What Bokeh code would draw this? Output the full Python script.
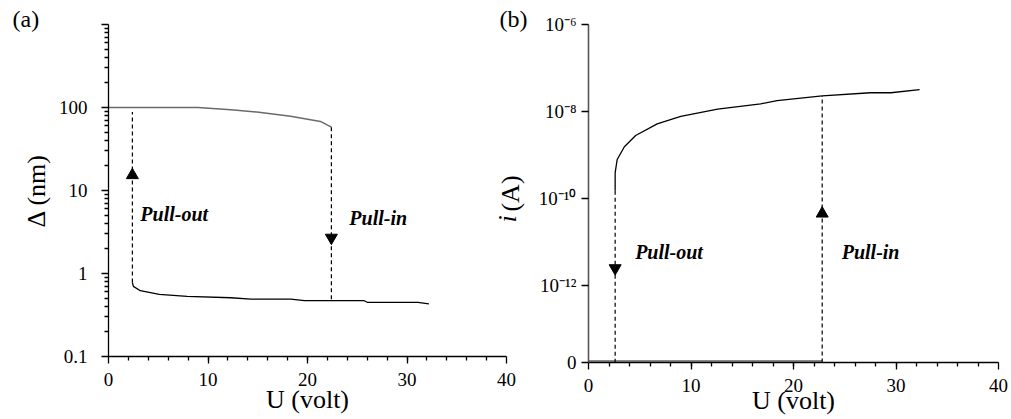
import math
from bokeh.plotting import figure
from bokeh.layouts import row
from bokeh.models import Range1d, FixedTicker, CustomJSTickFormatter, Label, Title
from bokeh.embed import file_html
from bokeh.resources import INLINE

# ---------------- data: panel (a) ----------------
a_up_u = [0, 9.0, 12.3, 14.9, 18.3, 21.3, 22.4]            # pull-in branch (grey)
a_up_d = [100, 100, 94, 88, 78.5, 68, 58]
a_low_u = [2.4, 2.5, 3.2, 5.1, 7.9, 12.3, 14.3, 18.3, 19.7, 25.7, 26.0, 31.1, 32.2]
a_low_d = [0.78, 0.70, 0.62, 0.56, 0.53, 0.51, 0.49, 0.49, 0.47, 0.47, 0.45, 0.45, 0.43]
a_pullout_u = [2.4, 2.4]
a_pullout_d = [0.78, 88]
a_pullin_u = [22.4, 22.4]
a_pullin_d = [58, 0.48]
a_arrow_up_u = [2.4]
a_arrow_up_d = [15.3]
a_arrow_dn_u = [22.4]
a_arrow_dn_d = [2.7]

# ---------------- data: panel (b) ----------------
b_ymin = 10 ** -13.77          # plotted position of the "0" level
b_u = [2.6, 2.6, 2.8, 3.5, 4.6, 6.7, 9.0, 12.6, 16.8, 18.4, 22.8, 27.5, 29.5, 32.3]
b_i = [1.5e-10, 3.9e-10, 7.9e-10, 1.55e-9, 2.8e-9, 5.2e-9, 7.7e-9, 1.13e-8, 1.5e-8,
       1.78e-8, 2.28e-8, 2.7e-8, 2.7e-8, 3.2e-8]
b_zero_u = [0, 22.8]
b_zero_i = [1.85e-14, 1.85e-14]
b_pullout_u = [2.6, 2.6]
b_pullout_i = [1.5e-10, b_ymin]
b_pullin_u = [22.8, 22.8]
b_pullin_i = [b_ymin, 2.28e-8]
b_arrow_dn_u = [2.6]
b_arrow_dn_i = [2.5e-12]
b_arrow_up_u = [22.8]
b_arrow_up_i = [4.5e-11]

x_ticks = [0, 10, 20, 30, 40]
a_y_ticks = [0.1, 1, 10, 100, 1000]
b_y_ticks = [b_ymin, 1e-12, 1e-10, 1e-8, 1e-6]

SERIF = "Liberation Serif"
TICK_FS = "19px"
LABEL_FS = "26px"


def base_style(p):
    p.outline_line_color = None
    p.grid.grid_line_color = None
    p.background_fill_color = "white"
    p.border_fill_color = "white"
    for ax in p.axis:
        ax.axis_line_color = "black"
        ax.axis_line_width = 1.3
        ax.major_tick_line_color = "black"
        ax.minor_tick_line_color = "black"
        ax.major_tick_line_width = 1.3
        ax.minor_tick_line_width = 1.3
        ax.major_tick_out = 7
        ax.major_tick_in = 0
        ax.minor_tick_out = 4
        ax.minor_tick_in = 0
        ax.major_label_text_font = SERIF
        ax.major_label_text_font_size = TICK_FS
        ax.major_label_text_color = "black"
        ax.axis_label_text_font = SERIF
        ax.axis_label_text_font_size = LABEL_FS
        ax.axis_label_text_font_style = "normal"
        ax.axis_label_text_color = "black"
    p.xaxis.ticker = FixedTicker(ticks=x_ticks, minor_ticks=list(range(2, 40, 2)))
    p.xaxis.major_label_standoff = 9
    p.xaxis.axis_label = "U (volt)"


def style_title(t, size, style="normal"):
    t.text_font = SERIF
    t.text_font_size = size
    t.text_font_style = style
    t.text_color = "black"


def lab(p, x, y, text, size, style="normal"):
    p.add_layout(Label(x=x, y=y, text=text, text_font=SERIF, text_font_size=size,
                       text_font_style=style, text_align="left",
                       text_baseline="middle", text_color="black"))


# ================= panel (a) =================
pa = figure(width=526, height=419, x_range=Range1d(0, 40), y_range=Range1d(0.1, 1000),
            y_axis_type="log", output_backend="svg", toolbar_location=None,
            min_border_left=108, min_border_right=20, min_border_top=24, min_border_bottom=63)
pa.frame_align = False
base_style(pa)
pa.xaxis.axis_label_standoff = -4
pa.yaxis.ticker = FixedTicker(ticks=a_y_ticks,
                              minor_ticks=[m * 10 ** e for e in range(-1, 3) for m in range(2, 10)])
pa.yaxis.formatter = CustomJSTickFormatter(
    code="if (tick > 500) return ''; if (tick < 0.5) return '0.1'; return Math.round(tick).toString();")
pa.yaxis.major_label_standoff = 14
pa.yaxis.axis_label = "\u0394 (nm)"
pa.yaxis.axis_label_standoff = 5

pa.title.text = "(a)"
pa.title.align = "left"
pa.title.offset = -96
pa.title.standoff = -14
pa.title.vertical_align = "bottom"
style_title(pa.title, "24px")

pa.line(a_up_u, a_up_d, line_color="#6a6a6a", line_width=1.5)
pa.line(a_low_u, a_low_d, line_color="black", line_width=1.3)
pa.line(a_pullout_u, a_pullout_d, line_color="black", line_width=1.2, line_dash="4 3")
pa.line(a_pullin_u, a_pullin_d, line_color="black", line_width=1.2, line_dash="4 3")
pa.scatter(a_arrow_up_u, a_arrow_up_d, marker="triangle", size=12, color="black")
pa.scatter(a_arrow_dn_u, a_arrow_dn_d, marker="inverted_triangle", size=12, color="black")

lab(pa, 3.2, 5.2, "Pull-out", "20px", "bold italic")
lab(pa, 24.2, 4.7, "Pull-in", "20px", "bold italic")

# ================= panel (b) =================
# pulled 34 px to the left (over the empty right border of panel (a)), transparent border
pb = figure(width=519, height=419, x_range=Range1d(0, 40), y_range=Range1d(b_ymin, 1e-6),
            y_axis_type="log", output_backend="svg", toolbar_location=None,
            min_border_left=96, min_border_right=13, min_border_top=24, min_border_bottom=57,
            margin=(0, 0, 0, -34))
pb.frame_align = False
base_style(pb)
pb.border_fill_alpha = 0
pb.xaxis.axis_label_standoff = -9
pb.yaxis.ticker = FixedTicker(ticks=b_y_ticks, minor_ticks=[])
pb.yaxis.formatter = CustomJSTickFormatter(code="""
const e = Math.round(Math.log10(tick));
if (e <= -13) return '0';
const sup = {'-': '\u207b', '0': '\u2070', '1': '\u00b9', '2': '\u00b2', '6': '\u2076', '8': '\u2078'};
return '10' + String(e).split('').map(c => sup[c]).join('');
""")
pb.yaxis.major_label_standoff = 5
pb.yaxis.axis_line_color = "#555555"
pb.yaxis.axis_line_width = 1.6
pb.yaxis.axis_label = "(A)"
pb.yaxis.axis_label_standoff = 11

pb.title.text = "(b)"
pb.title.align = "left"
pb.title.offset = -89
pb.title.standoff = -14
pb.title.vertical_align = "bottom"
style_title(pb.title, "24px")

t_i = Title(text="i", align="left", offset=140, standoff=-58, vertical_align="bottom")
style_title(t_i, LABEL_FS, "italic")
pb.add_layout(t_i, "left")

pb.line(b_zero_u, b_zero_i, line_color="#8a8a8a", line_width=2)
pb.line(b_u, b_i, line_color="black", line_width=1.3)
pb.line(b_pullout_u, b_pullout_i, line_color="black", line_width=1.2, line_dash="4 3")
pb.line(b_pullin_u, b_pullin_i, line_color="black", line_width=1.2, line_dash="4 3")
pb.scatter(b_arrow_dn_u, b_arrow_dn_i, marker="inverted_triangle", size=12, color="black")
pb.scatter(b_arrow_up_u, b_arrow_up_i, marker="triangle", size=12, color="black")

lab(pb, 4.55, 6.0e-12, "Pull-out", "20px", "bold italic")
lab(pb, 24.7, 6.0e-12, "Pull-in", "20px", "bold italic")

layout = row(pa, pb)
open("out.html", "w").write(file_html(layout, INLINE))
